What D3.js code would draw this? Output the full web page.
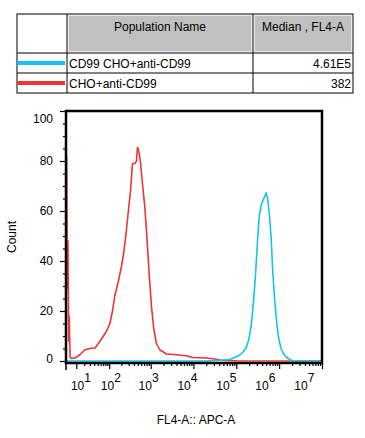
<!DOCTYPE html>
<html><head><meta charset="utf-8">
<script src="https://cdn.jsdelivr.net/npm/d3@7"></script>
<style>body{margin:0;background:#fff}svg{display:block}text{font-family:"Liberation Sans",Arial,sans-serif;font-size:12px;fill:#000}</style>
</head><body><svg id="c" width="365" height="438"></svg>
<script>
// ---- data ----
const tableHeaders = ["Population Name", "Median , FL4-A"];
const populations = ["CD99 CHO+anti-CD99", "CHO+anti-CD99"];
const medians = ["4.61E5", "382"];
const seriesColors = ["#14c3f0", "#f03434"];
const xTickExponents = [1, 2, 3, 4, 5, 6, 7];
const yTicks = [0, 20, 40, 60, 80, 100];
const yMinorTicks = [5, 10, 15, 25, 30, 35, 45, 50, 55, 65, 70, 75, 85, 90, 95];
const xLabel = "FL4-A:: APC-A";
const yLabel = "Count";

// red: CHO+anti-CD99 (FL4-A value, count)
const redX = [2.5, 2.9, 3.3, 3.8, 4.1, 4.8, 5.6, 8.7, 14, 21, 30, 42, 52, 64, 86, 104, 121, 138, 167, 202, 229, 256, 291, 332, 370, 420, 461, 487, 523, 573, 639, 724, 820, 914, 1040, 1177, 1363, 1628, 2334, 3992, 6826, 9725, 19950, 31000, 45000, 100000, 1e7];
const redY = [82, 29, 48, 8, 18, 1.5, 1, 1.2, 2.5, 4.5, 5, 5.2, 7, 9, 12, 15, 20, 26, 31.6, 38, 43.5, 50, 59, 68, 79, 79, 80, 85.5, 84, 79.6, 71, 61.8, 48.6, 35.5, 22, 13, 7, 4.5, 2.8, 2.5, 2.1, 1.4, 1.2, 0.8, 0.3, 0.1, 0];
// cyan: CD99 CHO+anti-CD99
const cyanX = [2.2, 20000, 40000, 69500, 90900, 118800, 141800, 170100, 195500, 222200, 242200, 265200, 290500, 316500, 346600, 385700, 429300, 496300, 540800, 592400, 648800, 706400, 773800, 875900, 974900, 1108000, 1254000, 1496000, 1894000, 2500000, 1e7];
const cyanY = [0, 0, 0.3, 0.6, 1.4, 2.3, 3.5, 5.3, 8.5, 13.8, 20.4, 28.3, 38.6, 49.5, 58.6, 62.6, 64.6, 67.3, 65, 58.6, 49.5, 36.5, 26, 15.6, 9, 5, 3, 1.4, 0.3, 0, 0];

// ---- layout ----
const svg = d3.select("#c");
const L = 66, R = 322, T = 111, B = 363;

// table
const tb = {x0: 17, x1: 67, x2: 253, x3: 353, y0: 14, y1: 53, y2: 73, y3: 93};
const tg = svg.append("g");
// gray header cells
[[tb.x1, tb.x2], [tb.x2, tb.x3]].forEach(([a, b]) => {
  tg.append("rect").attr("x", a + 1.5).attr("y", tb.y0 + 1.5).attr("width", b - a - 3).attr("height", tb.y1 - tb.y0 - 3)
    .attr("fill", "#c0c0c0").attr("stroke", "#e8e8e8").attr("stroke-width", 1);
});
tg.append("rect").attr("x", tb.x0).attr("y", tb.y0).attr("width", tb.x3 - tb.x0).attr("height", tb.y3 - tb.y0)
  .attr("fill", "none").attr("stroke", "#000").attr("stroke-width", 1);
[tb.x1, tb.x2].forEach(x => tg.append("line").attr("x1", x).attr("x2", x).attr("y1", tb.y0).attr("y2", tb.y3).attr("stroke", "#000"));
[tb.y1, tb.y2].forEach(y => tg.append("line").attr("x1", tb.x0).attr("x2", tb.x3).attr("y1", y).attr("y2", y).attr("stroke", "#000"));
tg.append("text").attr("x", (tb.x1 + tb.x2) / 2).attr("y", 31).attr("text-anchor", "middle").text(tableHeaders[0]);
tg.append("text").attr("x", (tb.x2 + tb.x3) / 2).attr("y", 31).attr("text-anchor", "middle").text(tableHeaders[1]);
const rowY = [tb.y1, tb.y2];
populations.forEach((p, i) => {
  const cy = rowY[i] + 10;
  tg.append("line").attr("x1", tb.x0).attr("x2", tb.x1 - 2).attr("y1", cy).attr("y2", cy)
    .attr("stroke", seriesColors[i]).attr("stroke-width", 4);
  tg.append("text").attr("x", tb.x1 + 2).attr("y", cy + 4.5).text(p);
  tg.append("text").attr("x", tb.x3 - 2).attr("y", cy + 4.5).attr("text-anchor", "end").text(medians[i]);
});

// scales
const x = d3.scaleSymlog().constant(8.5).domain([2.15, 1e7]).range([L, R]);
const y = d3.scaleLinear().domain([0, 100]).range([B - 2, T]);
const labelPos = d3.scaleLinear().domain([L, R]).range([71.6, 304.3]);

// curves
const line = d3.line().x(d => x(d[0])).y(d => y(d[1]));
svg.append("path").datum(d3.zip(redX, redY)).attr("d", line).attr("fill", "none")
  .attr("stroke", seriesColors[1]).attr("stroke-width", 1.6).attr("stroke-linejoin", "round");
svg.append("path").datum(d3.zip(cyanX, cyanY)).attr("d", line).attr("fill", "none")
  .attr("stroke", seriesColors[0]).attr("stroke-width", 1.6).attr("stroke-linejoin", "round");

// y axis ticks
const yAxis = d3.axisLeft(y).tickValues(yTicks).tickSize(6).tickFormat("");
const yg = svg.append("g").attr("transform", `translate(${L},0)`).call(yAxis);
const yAxisMinor = d3.axisLeft(y).tickValues(yMinorTicks).tickSize(3).tickFormat("");
const ygm = svg.append("g").attr("transform", `translate(${L},0)`).call(yAxisMinor);
[yg, ygm].forEach(g => { g.select(".domain").remove(); g.selectAll("line").attr("stroke", "#000").attr("stroke-width", 1.2); });
yTicks.forEach(v => {
  const py = Math.max(y(v), T + 8);
  svg.append("text").attr("x", 53).attr("y", Math.min(py, B - 4) + 4.3).attr("text-anchor", "end").text(v);
});

// x axis ticks
const majors = xTickExponents.map(e => Math.pow(10, e));
const minors = [];
for (let e = 1; e <= 6; e++) for (let k = 2; k <= 9; k++) minors.push(k * Math.pow(10, e));
const xAxis = d3.axisBottom(x).tickValues(majors).tickSize(6).tickFormat("");
const xg = svg.append("g").attr("transform", `translate(0,${B})`).call(xAxis);
const xAxisMinor = d3.axisBottom(x).tickValues(minors).tickSize(3).tickFormat("");
const xgm = svg.append("g").attr("transform", `translate(0,${B})`).call(xAxisMinor);
[xg, xgm].forEach(g => { g.select(".domain").remove(); g.selectAll("line").attr("stroke", "#000").attr("stroke-width", 1.2); });
xTickExponents.forEach(e => {
  const t = svg.append("text").attr("x", labelPos(x(Math.pow(10, e)))).attr("y", 389.5).attr("text-anchor", "middle");
  t.append("tspan").text("10");
  t.append("tspan").attr("dy", -8).text(e);
});

// frame
svg.append("rect").attr("x", L).attr("y", T).attr("width", R - L).attr("height", B - T)
  .attr("fill", "none").attr("stroke", "#000").attr("stroke-width", 2.5);
svg.append("line").attr("x1", L).attr("x2", L).attr("y1", B).attr("y2", B + 7).attr("stroke", "#000").attr("stroke-width", 1.5);

// axis titles
svg.append("text").attr("x", (L + R) / 2 + 2).attr("y", 424).attr("text-anchor", "middle").text(xLabel);
svg.append("text").attr("transform", "translate(16,237) rotate(-90)").attr("text-anchor", "middle").text(yLabel);
</script></body></html>
